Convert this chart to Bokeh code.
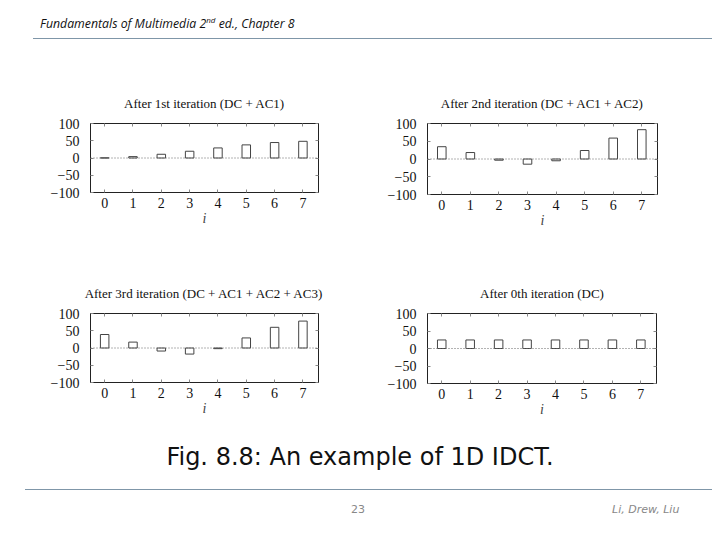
from bokeh.plotting import figure
from bokeh.models import Div, Span, FixedTicker, LinearAxis
from bokeh.layouts import column, row
from bokeh.embed import file_html
from bokeh.resources import INLINE

# ---- data ----
idx = [0, 1, 2, 3, 4, 5, 6, 7]
tick_labels = ["0", "1", "2", "3", "4", "5", "6", "7"]
y_ticks = [-100, -50, 0, 50, 100]
iter1 = [0.4, 4.0, 10.8, 19.6, 29.2, 38.0, 44.8, 48.4]        # DC + AC1
iter2 = [34.6, 18.2, -3.4, -14.6, -5.0, 23.9, 58.9, 82.6]     # DC + AC1 + AC2
iter3 = [39.1, 17.1, -8.8, -17.6, -1.9, 29.2, 60.0, 78.0]     # DC + AC1 + AC2 + AC3
iter0 = [24.4, 24.4, 24.4, 24.4, 24.4, 24.4, 24.4, 24.4]      # DC
titles = ["After 1st iteration (DC + AC1)",
          "After 2nd iteration (DC + AC1 + AC2)",
          "After 3rd iteration (DC + AC1 + AC2 + AC3)",
          "After 0th iteration (DC)"]

SERIF = "Liberation Serif"
LINE_COL = "#7f96a8"


def panel(values, title, fw, fh, bl, br, bt, bb):
    p = figure(frame_width=fw, frame_height=fh, x_range=(-0.5, 7.55), y_range=(-100, 100),
               output_backend="svg", toolbar_location=None,
               min_border_left=bl, min_border_right=br, min_border_top=bt, min_border_bottom=bb)
    p.title.text = title
    p.title.text_font = SERIF
    p.title.text_font_style = "normal"
    p.title.text_font_size = "13px"
    p.title.align = "center"
    p.title.text_color = "#111111"
    p.title.standoff = 26
    p.xgrid.visible = False
    p.ygrid.visible = False
    p.outline_line_color = "#222222"
    p.outline_line_width = 1
    p.background_fill_color = "white"
    p.border_fill_color = "white"

    p.xaxis.ticker = FixedTicker(ticks=idx)
    p.xaxis.major_label_overrides = {i: t for i, t in zip(idx, tick_labels)}
    p.yaxis.ticker = FixedTicker(ticks=y_ticks)
    p.yaxis.major_label_overrides = {-100: "\u2212100", -50: "\u221250"}
    for ax in (p.xaxis[0], p.yaxis[0]):
        ax.major_label_text_font = SERIF
        ax.major_label_text_font_size = "14px"
        ax.major_label_text_color = "#111111"
        ax.major_tick_in = 3
        ax.major_tick_out = 0
        ax.major_tick_line_color = "#888888"
        ax.minor_tick_line_color = None
        ax.axis_line_color = "#222222"
    p.xaxis.major_label_standoff = 5
    p.yaxis.major_label_standoff = 11
    p.xaxis.axis_label = "i"
    p.xaxis.axis_label_text_font = SERIF
    p.xaxis.axis_label_text_font_style = "italic"
    p.xaxis.axis_label_text_font_size = "14px"
    p.xaxis.axis_label_standoff = 0

    # mirror tick marks on top and right (no labels)
    top = LinearAxis(ticker=FixedTicker(ticks=idx), major_label_text_color=None,
                     major_label_text_font_size="1px",
                     major_label_standoff=0, major_tick_in=3, major_tick_out=0,
                     major_tick_line_color="#888888", minor_tick_line_color=None,
                     axis_line_color="#222222")
    right = LinearAxis(ticker=FixedTicker(ticks=y_ticks), major_label_text_color=None,
                       major_label_text_font_size="1px",
                       major_label_standoff=0, major_tick_in=3, major_tick_out=0,
                       major_tick_line_color="#888888", minor_tick_line_color=None,
                       axis_line_color="#222222")
    p.add_layout(top, "above")
    p.add_layout(right, "right")

    p.add_layout(Span(location=0, dimension="width", line_color="#666666",
                      line_dash="1 2", line_width=1))
    p.vbar(x=idx, top=values, bottom=0, width=0.3, fill_color=None,
           line_color="#444444", line_width=1)
    return p


p1 = panel(iter1, titles[0], 228, 69, 82, 20, 62, 49)
p2 = panel(iter2, titles[1], 230, 71, 89, 55, 63, 46)
p3 = panel(iter3, titles[2], 228, 69, 82, 20, 73, 38)
p4 = panel(iter0, titles[3], 229, 70, 89, 56, 71, 39)

header = Div(
    text=('<div style="position:relative;width:704px;height:52px;">'
          '<div style="position:absolute;left:32px;top:6px;font-family:\'Open Sans\';'
          'font-style:italic;font-size:12.3px;color:#111;white-space:nowrap;">'
          'Fundamentals of Multimedia 2<sup style="font-size:8px;">nd</sup> ed., Chapter 8</div>'
          '<div style="position:absolute;left:25px;top:30px;width:679px;height:0;'
          'border-top:1px solid ' + LINE_COL + ';"></div></div>'),
    width=704, height=52, margin=(0, 0, 0, 0))

caption = Div(
    text=('<div style="width:704px;text-align:center;padding-top:20px;'
          'font-family:\'DejaVu Sans\';font-size:24px;color:#111;white-space:nowrap;">'
          'Fig. 8.8: An example of 1D IDCT.</div>'),
    width=704, height=60, margin=(0, 0, 0, 0))

footer = Div(
    text=('<div style="position:relative;width:704px;height:44px;">'
          '<div style="position:absolute;left:17px;top:9px;width:687px;height:0;'
          'border-top:1px solid ' + LINE_COL + ';"></div>'
          '<div style="position:absolute;left:343px;top:22px;font-family:\'DejaVu Sans\';'
          'font-size:11px;color:#888;">23</div>'
          '<div style="position:absolute;left:604px;top:22px;font-family:\'DejaVu Sans\';'
          'font-style:italic;font-size:11px;color:#888;white-space:nowrap;">Li, Drew, Liu</div>'
          '</div>'),
    width=704, height=44, margin=(0, 0, 0, 0))

for f in (p1, p2, p3, p4):
    f.margin = (0, 0, 0, 0)

layout = column(header, row(p1, p2, spacing=0), row(p3, p4, spacing=0), caption, footer,
                spacing=0, margin=(8, 0, 0, 8))

open("out.html", "w").write(file_html(layout, INLINE))
